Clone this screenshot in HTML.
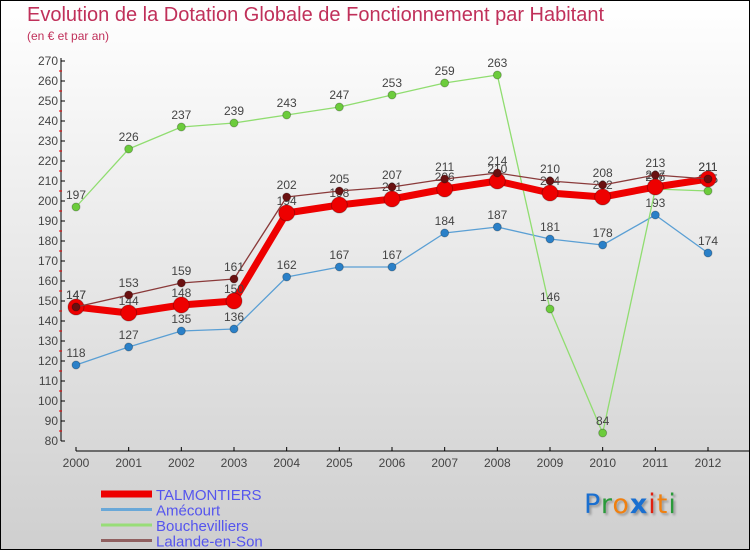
<!DOCTYPE html>
<html><head><meta charset="utf-8"><style>
body{margin:0}
#c{position:relative;width:748px;height:548px;border:1px solid #000;background:linear-gradient(#fff,#cfcfcf);font-family:"Liberation Sans",sans-serif;overflow:hidden}
.t{position:absolute;left:26px;top:3px;font-size:20px;color:#c0305a}
.s{position:absolute;left:26px;top:28px;font-size:12px;color:#c0305a}
</style></head><body>
<div id="c">
<div class="t">Evolution de la Dotation Globale de Fonctionnement par Habitant</div>
<div class="s">(en € et par an)</div>
<svg id="g" width="748" height="548" style="position:absolute;left:0;top:0"></svg>
<div style="position:absolute;left:583px;top:488px;font-size:27px;font-family:'DejaVu Sans',sans-serif;letter-spacing:1px;text-shadow:2px 2px 2px #999"><span style="color:#1a6fd0">P</span><span style="color:#2a9a3a">r</span><span style="color:#f08010">o</span><span style="color:#1a6fd0;font-weight:bold">x</span><span style="color:#e02010">i</span><span style="color:#f08010">t</span><span style="color:#2a9a3a">i</span></div>
</div>
<script>
const years=[2000,2001,2002,2003,2004,2005,2006,2007,2008,2009,2010,2011,2012];
const talmontiers=[147,144,148,150,194,198,201,206,210,204,202,207,211];
const amecourt=[118,127,135,136,162,167,167,184,187,181,178,193,174];
const bouchevilliers=[197,226,237,239,243,247,253,259,263,146,84,206,205];
const lalande=[147,153,159,161,202,205,207,211,214,210,208,213,211];
const yTicks=[80,90,100,110,120,130,140,150,160,170,180,190,200,210,220,230,240,250,260,270];
const ns="http://www.w3.org/2000/svg";
const g=document.getElementById('g');
const X=i=>75+i*(632/12);
const Y=v=>60+(270-v)*2;
function el(t,a,p){const e=document.createElementNS(ns,t);for(const k in a)e.setAttribute(k,a[k]);(p||g).appendChild(e);return e;}
// axes
const ax=el('line',{x1:60,y1:57,x2:60,y2:440,stroke:'#000'});


const xx=el('line',{x1:75,y1:450,x2:748,y2:450,stroke:'#000'});


yTicks.forEach(v=>{
  el('line',{x1:60,y1:Y(v),x2:64,y2:Y(v),stroke:'#000'});
  if(v<270)el('line',{x1:58,y1:Y(v+5),x2:61,y2:Y(v+5),stroke:'#e00'});
  const t=el('text',{x:57,y:Y(v)+4,'text-anchor':'end','font-size':12,fill:'#444'});
  t.textContent=v;
  
  
});
years.forEach((y,i)=>{
  el('line',{x1:X(i),y1:446,x2:X(i),y2:450,stroke:'#000'});
  const t=el('text',{x:X(i),y:466,'text-anchor':'middle','font-size':12,fill:'#444'});
  t.textContent=y;
  
  
});
function series(d,color,w,r,dot,name){
  const grp=el('g',{});
  
  
  el('polyline',{points:d.map((v,i)=>X(i)+','+Y(v)).join(' '),fill:'none',stroke:color,'stroke-width':w,'stroke-linejoin':'round'},grp);
  d.forEach((v,i)=>{
    const c=el('circle',{cx:X(i),cy:Y(v),r:r,fill:dot,stroke:'rgba(0,0,0,0.25)'},grp);
    
    
    const t=el('text',{x:X(i),y:Y(v)-8,'text-anchor':'middle','font-size':12,fill:'#444'},grp);
    t.textContent=v;
    
    
  });
}
series(amecourt,'#5a9fd4',1.3,4,'#2a80c8','amecourt');
series(bouchevilliers,'#90dd70',1.3,4,'#6ccc3c','bouchevilliers');
series(talmontiers,'#ee0000',7,8,'#ee0000','talmontiers');
series(lalande,'#8a3a3a',1.3,4,'#6a1010','lalande');
const leg=[['TALMONTIERS','#ee0000',7],['Amécourt','#6aa8d8',3],['Bouchevilliers','#98dd78',3],['Lalande-en-Son','#906060',3]];
leg.forEach((l,i)=>{
  const y=493+i*15.5;
  const ln=el('line',{x1:100,y1:y,x2:151,y2:y,stroke:l[1],'stroke-width':l[2]});
  
  
  const t=el('text',{x:155,y:y+6,'font-size':15,fill:'#5555ee'});
  t.textContent=l[0];
  
  
});
</script>
</body></html>
